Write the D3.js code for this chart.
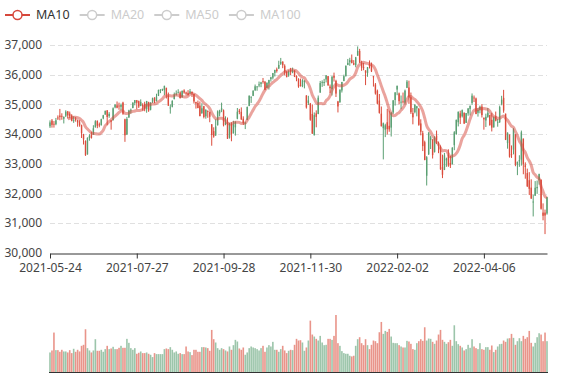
<!DOCTYPE html>
<html><head><meta charset="utf-8">
<script src="https://cdn.jsdelivr.net/npm/d3@7/dist/d3.min.js"></script>
<style>
html,body{margin:0;padding:0;background:#fff}
svg{display:block;font-family:"Noto Sans",sans-serif}
</style>
</head><body>
<svg id="chart" width="577" height="380"></svg>
<script>
// ---- data (Dow Jones daily) ----
const dates = [
"2021-05-24","2021-05-25","2021-05-26","2021-05-27","2021-05-28",
"2021-06-01","2021-06-02","2021-06-03","2021-06-04","2021-06-07","2021-06-08","2021-06-09","2021-06-10","2021-06-11","2021-06-14","2021-06-15","2021-06-16","2021-06-17","2021-06-18","2021-06-21","2021-06-22","2021-06-23","2021-06-24","2021-06-25","2021-06-28","2021-06-29","2021-06-30",
"2021-07-01","2021-07-02","2021-07-06","2021-07-07","2021-07-08","2021-07-09","2021-07-12","2021-07-13","2021-07-14","2021-07-15","2021-07-16","2021-07-19","2021-07-20","2021-07-21","2021-07-22","2021-07-23","2021-07-26","2021-07-27","2021-07-28","2021-07-29","2021-07-30",
"2021-08-02","2021-08-03","2021-08-04","2021-08-05","2021-08-06","2021-08-09","2021-08-10","2021-08-11","2021-08-12","2021-08-13","2021-08-16","2021-08-17","2021-08-18","2021-08-19","2021-08-20","2021-08-23","2021-08-24","2021-08-25","2021-08-26","2021-08-27","2021-08-30","2021-08-31",
"2021-09-01","2021-09-02","2021-09-03","2021-09-07","2021-09-08","2021-09-09","2021-09-10","2021-09-13","2021-09-14","2021-09-15","2021-09-16","2021-09-17","2021-09-20","2021-09-21","2021-09-22","2021-09-23","2021-09-24","2021-09-27","2021-09-28","2021-09-29","2021-09-30",
"2021-10-01","2021-10-04","2021-10-05","2021-10-06","2021-10-07","2021-10-08","2021-10-11","2021-10-12","2021-10-13","2021-10-14","2021-10-15","2021-10-18","2021-10-19","2021-10-20","2021-10-21","2021-10-22","2021-10-25","2021-10-26","2021-10-27","2021-10-28","2021-10-29",
"2021-11-01","2021-11-02","2021-11-03","2021-11-04","2021-11-05","2021-11-08","2021-11-09","2021-11-10","2021-11-11","2021-11-12","2021-11-15","2021-11-16","2021-11-17","2021-11-18","2021-11-19","2021-11-22","2021-11-23","2021-11-24","2021-11-26","2021-11-29","2021-11-30",
"2021-12-01","2021-12-02","2021-12-03","2021-12-06","2021-12-07","2021-12-08","2021-12-09","2021-12-10","2021-12-13","2021-12-14","2021-12-15","2021-12-16","2021-12-17","2021-12-20","2021-12-21","2021-12-22","2021-12-23","2021-12-27","2021-12-28","2021-12-29","2021-12-30","2021-12-31",
"2022-01-03","2022-01-04","2022-01-05","2022-01-06","2022-01-07","2022-01-10","2022-01-11","2022-01-12","2022-01-13","2022-01-14","2022-01-18","2022-01-19","2022-01-20","2022-01-21","2022-01-24","2022-01-25","2022-01-26","2022-01-27","2022-01-28","2022-01-31",
"2022-02-01","2022-02-02","2022-02-03","2022-02-04","2022-02-07","2022-02-08","2022-02-09","2022-02-10","2022-02-11","2022-02-14","2022-02-15","2022-02-16","2022-02-17","2022-02-18","2022-02-22","2022-02-23","2022-02-24","2022-02-25","2022-02-28",
"2022-03-01","2022-03-02","2022-03-03","2022-03-04","2022-03-07","2022-03-08","2022-03-09","2022-03-10","2022-03-11","2022-03-14","2022-03-15","2022-03-16","2022-03-17","2022-03-18","2022-03-21","2022-03-22","2022-03-23","2022-03-24","2022-03-25","2022-03-28","2022-03-29","2022-03-30","2022-03-31",
"2022-04-01","2022-04-04","2022-04-05","2022-04-06","2022-04-07","2022-04-08","2022-04-11","2022-04-12","2022-04-13","2022-04-14","2022-04-18","2022-04-19","2022-04-20","2022-04-21","2022-04-22","2022-04-25","2022-04-26","2022-04-27","2022-04-28","2022-04-29",
"2022-05-02","2022-05-03","2022-05-04","2022-05-05","2022-05-06","2022-05-09","2022-05-10","2022-05-11","2022-05-12","2022-05-13","2022-05-16","2022-05-17","2022-05-18","2022-05-19","2022-05-20","2022-05-23"
];

const opens = [
34263,34457,34347,34335,34558,
34625,34614,34518,34618,34764,34693,34630,34460,34513,34470,34400,34300,33980,33770,33320,33870,33970,33990,34230,34450,34330,34300,
34530,34660,34800,34610,34460,34470,34900,34970,34960,34920,35060,34500,33990,34560,34810,34880,35050,35140,35110,34950,34990,
35020,34850,35080,34820,35090,35230,35110,35290,35460,35510,35480,35560,35310,34870,34920,35180,35350,35380,35400,35240,35470,35400,
35390,35370,35420,35350,35080,35050,34960,34710,34940,34600,34780,34740,34330,34100,33960,34300,34700,34800,34800,34350,34420,
33880,34320,34030,34230,34520,34790,34750,34520,34370,34480,34950,35230,35290,35480,35580,35640,35690,35780,35760,35560,35700,
35850,35900,36060,36180,36210,36370,36440,36300,36100,35970,36160,36080,36140,35960,35860,35650,35610,35760,35300,35050,35030,
34680,33960,34700,34680,35400,35740,35720,35840,35950,35600,35520,35960,35790,35100,35080,35470,35790,35950,36330,36420,36500,36390,
36320,36640,36800,36400,36250,36140,36060,36360,36340,35950,35670,35460,35130,34690,34200,34150,34400,34280,34220,34730,
35150,35500,35370,35070,35100,35060,35560,35570,35240,34710,34740,34870,34850,34360,34030,33730,32600,33320,33800,
33820,33400,33950,33650,33560,32890,32800,33120,33300,33030,32990,33630,34000,34400,34700,34600,34720,34380,34700,34850,35050,35230,35200,
34720,34820,34930,34550,34460,34580,34640,34480,34230,34600,34400,34400,35020,35220,34690,33700,33980,33330,33480,33980,
32980,33080,33140,33850,32950,32690,32450,32200,31700,31930,32180,32450,32470,31360,31360,31330
];

const closes = [
34394,34312,34323,34465,34529,
34575,34600,34577,34756,34630,34600,34447,34466,34480,34394,34299,34034,33823,33290,33877,33946,33874,34197,34434,34283,34292,34503,
34634,34786,34577,34682,34422,34870,34996,34889,34933,34987,34688,33962,34512,34798,34823,35062,35144,35059,34931,35085,34935,
34838,35116,34793,35064,35209,35102,35265,35485,35500,35515,35625,35343,34961,34894,35120,35336,35366,35406,35213,35456,35400,35361,
35313,35444,35369,35100,35031,34879,34608,34870,34578,34814,34751,34585,33970,33920,34258,34765,34798,34869,34300,34391,33844,
34326,34003,34315,34417,34755,34746,34496,34378,34378,34913,35295,35259,35457,35609,35603,35677,35741,35757,35491,35730,35820,
35914,36053,36158,36124,36328,36432,36320,36080,35921,36100,36087,36142,35931,35871,35602,35619,35814,35804,34899,35136,34484,
34022,34640,34580,35227,35719,35754,35755,35971,35651,35544,35927,35898,35365,34932,35493,35754,35951,36302,36398,36489,36398,36338,
36585,36800,36407,36236,36232,36069,36252,36290,36114,35912,35368,35029,34715,34265,34365,34298,34168,34161,34725,35132,
35405,35629,35111,35090,35091,35463,35768,35242,34738,34566,34989,34934,34312,34079,33597,33132,33224,34059,33893,
33295,33891,33795,33615,32817,32633,33286,33174,32944,32945,33544,34063,34481,34755,34553,34807,34359,34708,34861,34956,35294,35229,34678,
34818,34922,34641,34497,34584,34721,34308,34220,34565,34451,34412,34911,35161,34793,33811,34049,33240,33302,34161,32977,
33062,33129,34061,32998,32899,32246,32161,31834,31730,32197,32223,32655,31490,31253,31262,31880
];

const lows = [
34208,34218,34220,34300,34478,
34465,34485,34360,34575,34525,34535,34430,34380,34420,34250,34250,33870,33650,33270,33310,33780,33850,33980,34220,34200,34230,34290,
34500,34650,34300,34550,34150,34460,34870,34870,34820,34800,34650,33741,33970,34550,34690,34870,34970,34840,34880,34940,34790,
34770,34720,34750,34800,35050,35040,35100,35280,35380,35450,35310,35200,34950,34690,34900,35170,35300,35370,35200,35230,35360,35300,
35300,35350,35250,35030,34860,34870,34600,34680,34530,34520,34550,34400,33610,33880,33940,34290,34600,34740,34260,34300,33840,
33850,33760,34020,33950,34500,34670,34480,34310,34170,34470,34940,35050,35280,35450,35460,35580,35580,35700,35480,35550,35500,
35770,35840,35940,36070,36190,36330,36220,35980,35910,35930,35990,36050,35920,35780,35560,35600,35580,35540,34860,34980,34450,
34006,33960,34230,34670,35390,35590,35620,35740,35620,35380,35300,35770,35250,34730,35050,35400,35780,35940,36320,36300,36380,36320,
36250,36640,36400,36130,36150,35650,35930,36210,36090,35600,35330,35000,34690,34260,33150,33900,33990,34080,33920,34680,
34960,35310,35000,34840,35030,35000,35550,35020,34680,34330,34700,34600,34280,33960,33430,33120,32272,33300,33500,
33180,33380,33670,33360,32800,32520,32790,32900,32900,32860,32980,33460,33980,34260,34340,34560,34340,34380,34620,34630,34980,35080,34670,
34590,34700,34560,34150,34240,34550,34280,34090,34220,34430,34250,34380,34970,34720,33800,33510,33210,33200,33320,32920,
32620,32900,32940,32650,32500,32220,31950,31820,31230,31920,31990,32300,31460,31100,30636,31290
];

const highs = [
34463,34509,34440,34545,34631,
34849,34702,34600,34802,34780,34760,34670,34600,34574,34490,34470,34320,34010,33790,33890,34000,34080,34300,34470,34460,34390,34520,
34650,34790,34810,34740,34470,34900,35000,35100,35060,35030,35090,34520,34580,34820,34860,35070,35150,35150,35130,35170,35040,
35090,35120,35090,35070,35230,35240,35360,35500,35510,35530,35630,35560,35400,35000,35140,35400,35470,35510,35440,35470,35510,35430,
35480,35520,35440,35360,35090,35130,35100,35040,34950,34840,34800,34760,34340,34230,34500,34800,34820,35060,34830,34600,34560,
34380,34400,34450,34430,34880,34850,34900,34600,34420,34930,35300,35270,35480,35670,35620,35770,35760,35890,35790,35740,35830,
35930,36060,36170,36240,36470,36565,36450,36350,36120,36150,36230,36240,36150,35980,35880,35870,35850,35810,35310,35290,35050,
35000,34730,34800,35300,35790,35810,35860,35990,35960,35670,35960,36070,35830,35120,35510,35760,36000,36310,36530,36570,36680,36490,
36600,36952,36870,36470,36400,36150,36260,36480,36410,35960,35720,35500,35350,34930,34390,34350,34850,34790,34740,35150,
35410,35630,35400,35300,35400,35500,35820,35800,35400,34880,35010,34950,34880,34500,34110,33780,33260,34060,33950,
33830,33930,34120,33750,33620,33310,33370,33210,33490,33270,33560,34100,34490,34760,34790,34830,34730,34710,34880,34960,35370,35300,35230,
34880,34960,35010,34560,34690,34880,34650,34720,34600,34760,34510,34960,35290,35490,34690,34060,33990,33620,34200,34000,
33080,33290,34120,33850,33050,32840,32720,32480,31960,32420,32440,32670,32470,31670,31460,31885
];

// volume, millions of shares
const volumes = [
236,260,476,264,264,244,268,248,248,
236,264,228,280,244,268,248,316,328,516,288,260,236,260,396,256,256,268,244,276,316,276,
284,
304,276,276,292,316,292,292,400,352,288,268,288,220,232,248,
228,
228,236,220,208,180,228,216,216,216,216,276,284,276,300,268,236,248,220,228,216,216,308,248,240,204,
268,
268,244,244,300,300,296,288,256,508,396,356,288,268,288,276,260,248,308,268,324,388,368,284,268,296,208,236,288,308,296,288,276,260,288,316,244,296,324,308,364,268,268,244,276,316,260,228,256,268,264,328,400,380,
384,356,256,296,380,620,452,428,400,380,
436,356,324,328,400,400,388,436,688,348,
316,252,228,220,220,196,188,196,316,396,
420,348,324,396,324,276,328,380,372,348,
480,604,460,496,484,520,428,352,348,348,
324,308,296,296,376,368,340,276,268,348,
372,396,376,540,380,404,400,364,340,380,
452,508,388,364,340,360,388,316,564,372,
336,316,296,260,276,328,292,396,308,288,
276,348,276,268,300,300,268,320,240,268,
308,336,340,380,364,404,408,460,412,328,
372,408,372,436,400,420,496,352,308,352,
420,468,452,372,476,372
];

const yTicks = [30000,31000,32000,33000,34000,35000,36000,37000];
const xTickLabels = ["2021-05-24","2021-07-27","2021-09-28","2021-11-30","2022-02-02","2022-04-06"];
const legendNames = ["MA10","MA20","MA50","MA100"];
const legendActive = [true,false,false,false];
const maWindow = 10;

// ---- styling ----
const UP = "#5a9f72", DOWN = "#db4c3c", MA_COLOR = "#d6473b";
const L = 50, R = 547, TOP = 45, BOT = 253, VTOP = 315, VBOT = 372;

const n = Math.min(dates.length, opens.length, closes.length, lows.length, highs.length, volumes.length);
const rows = d3.range(n).map(i => ({d: dates[i], o: opens[i], c: closes[i], l: lows[i], h: highs[i], v: volumes[i]}));

const svg = d3.select("#chart");
const x = d3.scalePoint().domain(dates.slice(0, n)).range([L, R]);
const y = d3.scaleLinear().domain([30000, 37000]).range([BOT, TOP]);
const yv = d3.scaleLinear().domain([0, d3.max(volumes)]).range([VBOT, VTOP]);

// grid lines
svg.append("g").selectAll("line").data(yTicks.filter(t => t > 30000)).join("line")
  .attr("x1", L).attr("x2", R)
  .attr("y1", d => Math.round(y(d)) + 0.5).attr("y2", d => Math.round(y(d)) + 0.5)
  .attr("stroke", "#e0e0e0").attr("stroke-dasharray", "5,3");

// y labels
svg.append("g").selectAll("text").data(yTicks).join("text")
  .attr("x", L - 8).attr("y", d => y(d)).attr("dy", "0.35em")
  .attr("text-anchor", "end").attr("font-size", 12).attr("fill", "#444")
  .text(d => d3.format(",")(d));

// x axis
const xAxis = svg.append("g").attr("transform", `translate(0,${BOT + 0.5})`)
  .call(d3.axisBottom(x).tickValues(xTickLabels).tickSize(5).tickSizeOuter(0).tickPadding(5));
xAxis.select(".domain").attr("stroke", "#333");
xAxis.selectAll(".tick line").attr("stroke", "#333");
xAxis.selectAll(".tick text").attr("font-size", 12).attr("fill", "#444").attr("font-family", "Noto Sans, sans-serif");

// candles
const cg = svg.append("g");
rows.forEach(r => {
  const cx = x(r.d);
  const col = r.c >= r.o ? UP : DOWN;
  cg.append("line").attr("x1", cx).attr("x2", cx).attr("y1", y(r.h)).attr("y2", y(r.l))
    .attr("stroke", col).attr("stroke-width", 1);
  const top = y(Math.max(r.o, r.c)), bot = y(Math.min(r.o, r.c));
  cg.append("rect").attr("x", cx - 0.7).attr("width", 1.4)
    .attr("y", top).attr("height", Math.max(0.8, bot - top)).attr("fill", col);
});

// MA10
const ma = rows.map((r, i) => i < maWindow - 1 ? null : d3.mean(rows.slice(i - maWindow + 1, i + 1), q => q.c));
svg.append("path")
  .datum(rows.map((r, i) => ({d: r.d, v: ma[i]})))
  .attr("fill", "none").attr("stroke", MA_COLOR).attr("stroke-width", 3).attr("stroke-opacity", 0.5)
  .attr("d", d3.line().defined(p => p.v != null).x(p => x(p.d)).y(p => y(p.v)).curve(d3.curveMonotoneX));

// volume bars
svg.append("g").selectAll("rect").data(rows).join("rect")
  .attr("x", r => x(r.d) - 0.8).attr("width", 1.6)
  .attr("y", r => yv(r.v)).attr("height", r => VBOT - yv(r.v))
  .attr("fill", r => r.c >= r.o ? UP : DOWN).attr("fill-opacity", 0.6);
svg.append("line").attr("x1", L - 1).attr("x2", R + 1).attr("y1", VBOT + 0.5).attr("y2", VBOT + 0.5)
  .attr("stroke", "#333");

// legend
let lx = 5;
const ly = 15;
legendNames.forEach((name, i) => {
  const g = svg.append("g");
  const col = legendActive[i] ? MA_COLOR : "#ccc";
  g.append("line").attr("x1", lx).attr("x2", lx + 25).attr("y1", ly).attr("y2", ly)
    .attr("stroke", col).attr("stroke-width", 2);
  g.append("circle").attr("cx", lx + 12.5).attr("cy", ly).attr("r", 4.5)
    .attr("fill", "#fff").attr("stroke", col).attr("stroke-width", 1.5);
  const t = g.append("text").attr("x", lx + 31).attr("y", ly).attr("dy", "0.35em")
    .attr("font-size", 12.5).attr("fill", legendActive[i] ? "#333" : "#ccc").text(name);
  lx += 31 + t.node().getComputedTextLength() + 10;
});
</script>
</body></html>
